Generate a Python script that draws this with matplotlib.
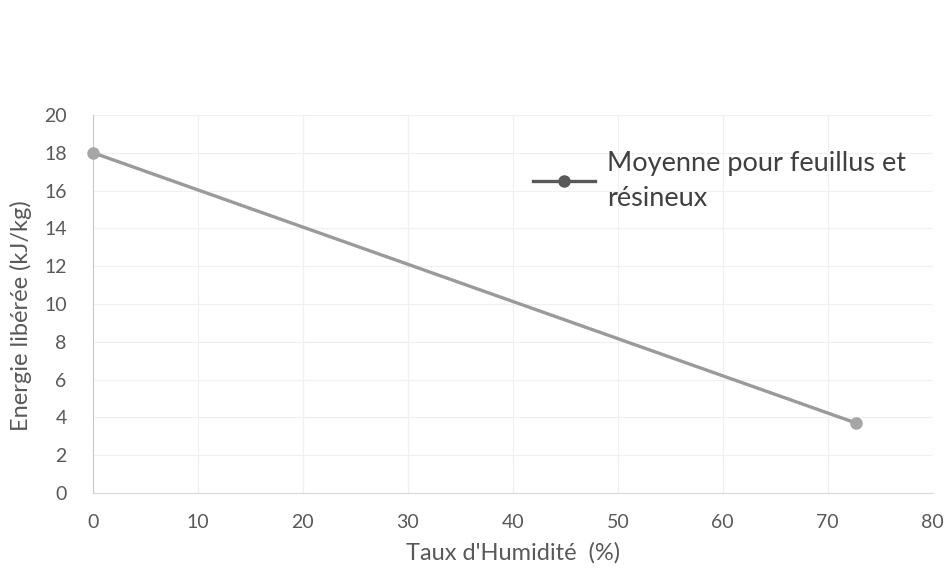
import matplotlib
matplotlib.use('Agg')
from matplotlib import pyplot as plt

# donnees
humidite = [0, 72.7]
energie = [18, 3.7]
xticks = [0, 10, 20, 30, 40, 50, 60, 70, 80]
yticks = [0, 2, 4, 6, 8, 10, 12, 14, 16, 18, 20]

plt.rcParams['font.family'] = ['Lato', 'DejaVu Sans']
gris = '#595959'

fig = plt.figure(figsize=(9.52, 5.69), dpi=100)
ax = fig.add_axes([0.0977, 0.1336, 0.882, 0.6644])

ax.plot(humidite, energie, color='#9a9a9a', lw=2.4, marker='o', ms=8,
        markerfacecolor='#a6a6a6', markeredgecolor='#a6a6a6',
        label='Moyenne pour feuillus et\nrésineux', clip_on=False, zorder=3)

ax.set_xlim(0, 80)
ax.set_ylim(0, 20)
ax.set_xticks(xticks)
ax.set_yticks(yticks)
ax.grid(True, color='#f0f0f0', lw=0.9)
for s in ['top', 'right']:
    ax.spines[s].set_visible(False)
ax.spines['left'].set_color('#c8c8c8')
ax.spines['bottom'].set_color('#d9d9d9')
ax.tick_params(length=0, labelsize=14, colors=gris)
ax.tick_params(axis='y', pad=19)
ax.tick_params(axis='x', pad=15)

ax.set_xlabel("Taux d'Humidité  (%)", fontsize=17, color=gris, labelpad=8)
ax.set_ylabel('Energie libérée (kJ/kg)', fontsize=17, color=gris)
ax.yaxis.set_label_coords(-0.073, 0.47)

leg = ax.legend(loc='upper left', bbox_to_anchor=(0.495, 0.97), frameon=False,
                fontsize=19.5, handlelength=2.3, handletextpad=0.45,
                labelcolor='#404040', labelspacing=0.2)
for t in leg.get_texts():
    t.set_linespacing(1.5)
for h in leg.legend_handles:
    h.set_color('#595959')
    h.set_markerfacecolor('#595959')
    h.set_markeredgecolor('#595959')

plt.savefig('out.png', dpi=100)
